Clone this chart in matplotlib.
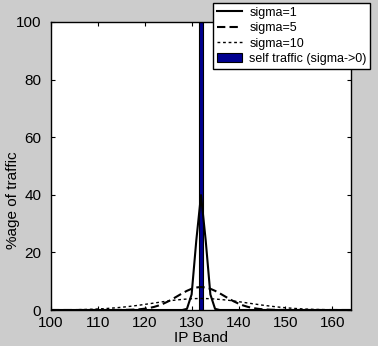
import numpy as np
import matplotlib.pyplot as plt

# IP band axis
bands = np.arange(100, 165)

# distance from the centre band (132) -> %age of traffic
s1_vals = [39.9, 24.2, 5.4, 0.4, 0.0]
s5_vals = [7.98, 7.82, 7.37, 6.66, 5.79, 4.84, 3.88, 2.99, 2.22, 1.58, 1.08,
           0.71, 0.45, 0.27, 0.16, 0.09, 0.05, 0.02, 0.01]
s10_vals = [3.99, 3.97, 3.91, 3.81, 3.67, 3.52, 3.35, 3.12, 2.90, 2.66, 2.42,
            2.18, 1.95, 1.71, 1.50, 1.30, 1.11, 0.94, 0.79, 0.66, 0.54, 0.44,
            0.35, 0.28, 0.22, 0.18, 0.14, 0.10, 0.08, 0.06, 0.04, 0.03, 0.02]

center = 132
self_traffic = 100

xticks = [100, 110, 120, 130, 140, 150, 160]
yticks = [0, 20, 40, 60, 80, 100]


def spread(vals):
    out = np.zeros(len(bands))
    for i, b in enumerate(bands):
        d = abs(b - center)
        if d < len(vals):
            out[i] = vals[d]
    return out


plt.rcParams['font.family'] = ['Liberation Sans', 'DejaVu Sans']

fig = plt.figure(figsize=(3.78, 3.46), dpi=100, facecolor='#cccccc')
ax = fig.add_axes([51/378, 36/346, 300/378, 288/346])

ax.bar([center], [self_traffic], width=1.0, color='#000090', edgecolor='black',
       linewidth=0.8, label='self traffic (sigma->0)', zorder=1)
ax.plot(bands, spread(s1_vals), color='black', lw=1.5, label='sigma=1', zorder=3)
ax.plot(bands, spread(s5_vals), color='black', lw=1.5, ls=(0, (4, 2)),
        label='sigma=5', zorder=3)
ax.plot(bands, spread(s10_vals), color='black', lw=1.0, ls=(0, (2, 2)),
        label='sigma=10', zorder=3)

ax.set_xlim(100, 164)
ax.set_ylim(0, 100)
ax.set_xticks(xticks)
ax.set_yticks(yticks)
ax.tick_params(direction='in', top=True, right=True, length=3, labelsize=11)
ax.tick_params(axis='x', pad=4)
ax.tick_params(axis='y', pad=7)
for s in ax.spines.values():
    s.set_linewidth(1.0)

ax.set_xlabel('IP Band', fontsize=11)
ax.xaxis.set_label_coords(0.5, -0.074)
ax.set_ylabel('%age of traffic', fontsize=11)
ax.yaxis.set_label_coords(-0.105, 0.38)

# lines first, bar last (same as the reference legend)
leg = fig.legend(loc='upper left', bbox_to_anchor=(213/378, 1 - 3/346),
                 fontsize=9, frameon=True, fancybox=False, edgecolor='black',
                 framealpha=1, labelspacing=0.27, handlelength=2.0,
                 handletextpad=0.6, borderpad=0.3, borderaxespad=0)
leg.get_frame().set_linewidth(1.0)

fig.savefig('out.png', dpi=100, facecolor=fig.get_facecolor())
